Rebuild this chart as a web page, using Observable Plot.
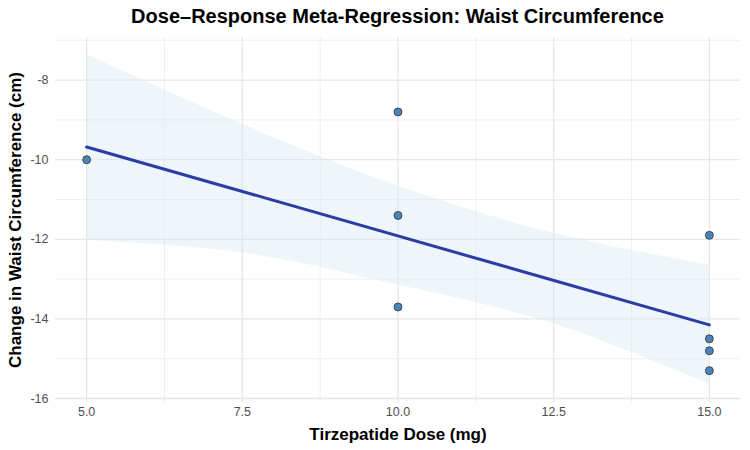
<!DOCTYPE html>
<html>
<head>
<meta charset="utf-8">
<script src="https://cdn.jsdelivr.net/npm/d3@7"></script>
<script src="https://cdn.jsdelivr.net/npm/@observablehq/plot@0.6"></script>
<style>
  body { margin: 0; background: #fff; font-family: "Liberation Sans", Arial, sans-serif; }
  #title { height: 35px; line-height: 33px; text-align: center; font-weight: bold; font-size: 20px; color: #000; padding-left: 45px; box-sizing: border-box; width: 750px; }
</style>
</head>
<body>
<div id="title">Dose–Response Meta-Regression: Waist Circumference</div>
<div id="chart"></div>
<script>
// Study points
const dose = [5, 10, 10, 10, 15, 15, 15, 15];
const waistChange = [-10.0, -8.8, -11.4, -13.7, -11.9, -14.5, -14.8, -15.3];

// Fitted regression line
const fitDose = [5, 15];
const fitValue = [-9.68, -14.15];

// Confidence band
const bandDose = [5, 7.5, 10, 12.5, 15];
const bandUpper = [-7.36, -9.11, -10.66, -11.85, -12.65];
const bandLower = [-12.03, -12.34, -13.15, -14.12, -15.64];

// Ticks
const xMajor = [5, 7.5, 10, 12.5, 15];
const xMinor = [6.25, 8.75, 11.25, 13.75];
const yMajor = [-16, -14, -12, -10, -8];
const yMinor = [-15, -13, -11, -9, -7];

const points = dose.map((d, i) => ({dose: d, change: waistChange[i]}));
const fit = fitDose.map((d, i) => ({dose: d, value: fitValue[i]}));
const band = bandDose.map((d, i) => ({dose: d, upper: bandUpper[i], lower: bandLower[i]}));

const chart = Plot.plot({
  width: 750,
  height: 415,
  marginTop: 2,
  marginBottom: 48,
  marginLeft: 55,
  marginRight: 10,
  style: {fontFamily: "Liberation Sans, Arial, sans-serif", fontSize: "12px", background: "#fff"},
  x: {domain: [4.5, 15.5]},
  y: {domain: [-16.1, -6.93]},
  marks: [
    Plot.ruleX(xMinor, {stroke: "#ebebeb", strokeWidth: 0.8}),
    Plot.ruleY(yMinor, {stroke: "#ebebeb", strokeWidth: 0.8}),
    Plot.ruleX(xMajor, {stroke: "#e6e6e6", strokeWidth: 1.3}),
    Plot.ruleY(yMajor, {stroke: "#e6e6e6", strokeWidth: 1.3}),
    Plot.areaY(band, {x: "dose", y1: "lower", y2: "upper", fill: "#d9ebf5", fillOpacity: 0.45, curve: "catmull-rom"}),
    Plot.line(fit, {x: "dose", y: "value", stroke: "#2c3ca6", strokeWidth: 3}),
    Plot.dot(points, {x: "dose", y: "change", r: 4, fill: "#4f83b8", stroke: "#2b3440", strokeWidth: 0.8}),
    Plot.axisX(xMajor, {tickSize: 0, tickPadding: 5, tickFormat: d3.format(".1f"), fill: "#4d4d4d", fontSize: 12.5,
      label: "Tirzepatide Dose (mg)", labelAnchor: "center", labelArrow: "none", labelOffset: 37}),
    Plot.axisY(yMajor, {tickSize: 0, tickPadding: 7, tickFormat: d => String(d), fill: "#4d4d4d", fontSize: 12.5,
      label: "Change in Waist Circumference (cm)", labelAnchor: "center", labelArrow: "none", labelOffset: 47})
  ]
});
d3.select(chart).selectAll("[aria-label='x-axis label'] text, [aria-label='y-axis label'] text")
  .style("font-weight", "bold").style("font-size", "17px").attr("fill", "#000");
document.getElementById("chart").appendChild(chart);
</script>
</body>
</html>
